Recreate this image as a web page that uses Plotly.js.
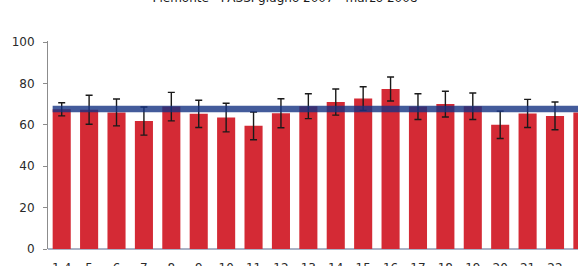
<!DOCTYPE html>
<html>
<head>
<meta charset="utf-8">
<script src="https://cdn.plot.ly/plotly-3.0.1.min.js"></script>
<style>
html,body{margin:0;padding:0;background:#fff;overflow:hidden;width:578px;height:266px;}
#chart{position:absolute;left:0;top:-12px;width:578px;height:290px;}
</style>
</head>
<body>
<div id="chart"></div>
<script>
// Data
const titleText = "Piemonte - PASSI giugno 2007 - marzo 2008";
const categories = ["1-4","5","6","7","8","9","10","11","12","13","14","15","16","17","18","19","20","21","22","23"];
const values = [67.5, 67.3, 66.0, 61.8, 68.8, 65.3, 63.5, 59.5, 65.6, 69.0, 71.0, 72.7, 77.3, 68.8, 70.0, 69.0, 60.0, 65.5, 64.3, 66.0];
const errors = [3.2, 7.0, 6.5, 6.8, 6.9, 6.6, 6.9, 6.7, 7.0, 6.0, 6.3, 5.7, 5.8, 6.2, 6.2, 6.4, 6.6, 6.8, 6.7, 6.5];
const regionalMean = 67.6;
const yTicks = [0, 20, 40, 60, 80, 100];

const idx = categories.map((_, i) => i);
const barFrac = 0.66;

const bars = {
  type: 'bar',
  x: idx,
  y: values,
  marker: {color: '#d42a35', line: {width: 0}},
  error_y: {type: 'data', array: errors, visible: true, color: '#1a1a1a', thickness: 1.4, width: 3.5},
  hoverinfo: 'skip',
  showlegend: false
};

const meanLine = {
  type: 'scatter',
  mode: 'lines',
  x: [idx[0] - barFrac / 2, idx[idx.length - 1] + barFrac / 2],
  y: [regionalMean, regionalMean],
  line: {color: 'rgba(20,50,130,0.8)', width: 6.5},
  hoverinfo: 'skip',
  showlegend: false
};

const font = {family: 'DejaVu Sans, Arial, sans-serif', size: 12, color: '#2a2a2a'};

const layout = {
  width: 578,
  height: 290,
  margin: {l: 48.3, r: 0, t: 52.5, b: 29, pad: 0},
  paper_bgcolor: '#ffffff',
  plot_bgcolor: '#ffffff',
  font: font,
  title: {text: titleText, font: {family: 'DejaVu Sans, Arial, sans-serif', size: 12, color: '#1a1a1a'},
          x: 285 / 578, xanchor: 'center', xref: 'container', y: 1 - 6 / 290, yanchor: 'top', yref: 'container'},
  bargap: 1 - barFrac,
  showlegend: false,
  xaxis: {
    range: [-0.5, -0.5 + (578 - 48.3) / 27.39],
    tickmode: 'array',
    tickvals: idx,
    ticktext: categories,
    showgrid: false,
    zeroline: false,
    showline: false,
    ticks: 'outside',
    ticklen: 8,
    tickcolor: 'rgba(0,0,0,0)',
    tickfont: font,
    fixedrange: true
  },
  yaxis: {
    range: [0, 100.5],
    tickmode: 'array',
    tickvals: yTicks,
    ticktext: yTicks.map(String),
    showgrid: false,
    zeroline: true,
    zerolinecolor: '#aab3c6',
    zerolinewidth: 2,
    showline: true,
    linecolor: '#8c8c8c',
    linewidth: 1,
    ticks: 'outside',
    ticklen: 4,
    tickcolor: '#8c8c8c',
    ticklabelstandoff: 6,
    tickfont: font,
    fixedrange: true
  }
};

Plotly.newPlot('chart', [bars, meanLine], layout, {staticPlot: true, displayModeBar: false});
</script>
</body>
</html>
